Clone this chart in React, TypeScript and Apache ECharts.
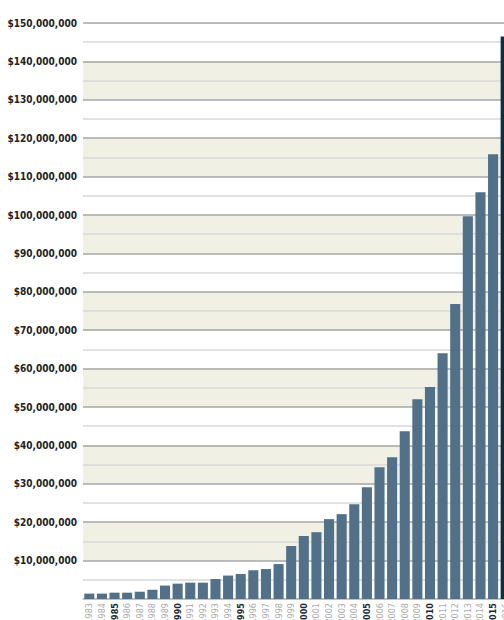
import React, { useEffect, useRef } from "react";
import * as echarts from "echarts";

const years: string[] = [
  "1983", "1984", "1985", "1986", "1987", "1988", "1989", "1990", "1991", "1992",
  "1993", "1994", "1995", "1996", "1997", "1998", "1999", "2000", "2001", "2002",
  "2003", "2004", "2005", "2006", "2007", "2008", "2009", "2010", "2011", "2012",
  "2013", "2014", "2015", "2016",
];

// values in dollars
const amounts: number[] = [
  1400000, 1400000, 1650000, 1650000, 1900000, 2400000, 3500000, 4000000, 4250000, 4250000,
  5200000, 6100000, 6500000, 7500000, 7800000, 9100000, 13800000, 16400000, 17400000, 20800000,
  22100000, 24700000, 29100000, 34300000, 36900000, 43700000, 52000000, 55200000, 64000000, 76800000,
  99700000, 105900000, 115800000, 146500000,
];

const highlightYear = "2016";

const fmtMoney = (v: number) =>
  "$" + Math.round(v).toString().replace(/\B(?=(\d{3})+(?!\d))/g, ",");

export default function App() {
  const ref = useRef<HTMLDivElement>(null);

  useEffect(() => {
    if (!ref.current) return;
    const chart = echarts.init(ref.current, null, { renderer: "svg" });
    chart.setOption({
      animation: false,
      grid: {
        left: 83,
        right: -8,
        top: 23,
        bottom: 21,
        containLabel: false,
        outerBoundsMode: "none",
      },
      xAxis: {
        type: "category",
        data: years,
        axisLine: { show: true, lineStyle: { color: "#c4c4bc", width: 1.5 } },
        axisTick: { show: false },
        axisLabel: {
          interval: 0,
          rotate: 90,
          margin: 4,
          fontFamily: "DejaVu Sans Condensed",
          fontSize: 9,
          formatter: (v: string) =>
            Number(v) % 5 === 0 ? "{b|" + v + "}" : "{n|" + v + "}",
          rich: {
            b: { fontWeight: "bold", color: "#1a2c3a", fontSize: 9, fontFamily: "DejaVu Sans Condensed" },
            n: { color: "#aaaaaa", fontSize: 9, fontFamily: "DejaVu Sans Condensed" },
          },
        },
      },
      yAxis: {
        type: "value",
        min: 0,
        max: 150000000,
        interval: 10000000,
        axisLine: { show: false },
        axisTick: { show: false },
        axisLabel: {
          margin: 6,
          fontFamily: "DejaVu Sans Condensed",
          fontWeight: "bold",
          fontSize: 10,
          color: "#222222",
          formatter: (v: number) => (v === 0 ? "" : fmtMoney(v)),
        },
        splitLine: { show: true, lineStyle: { color: "#a6a6a6", width: 1.5 } },
        splitArea: { show: true, areaStyle: { color: ["#ffffff", "#f0f0e4"] } },
        minorTick: { show: false, splitNumber: 2 },
        minorSplitLine: { show: true, lineStyle: { color: "#d8d8d8", width: 1.5 } },
      },
      series: [
        {
          type: "bar",
          barCategoryGap: "20%",
          data: amounts.map((v, i) => ({
            value: v,
            itemStyle: { color: years[i] === highlightYear ? "#0b2f46" : "#527189" },
          })),
        },
      ],
    });
    return () => chart.dispose();
  }, []);

  return (
    <div
      ref={ref}
      style={{ position: "absolute", left: 0, top: 0, width: 504, height: 620, overflow: "hidden" }}
    />
  );
}
